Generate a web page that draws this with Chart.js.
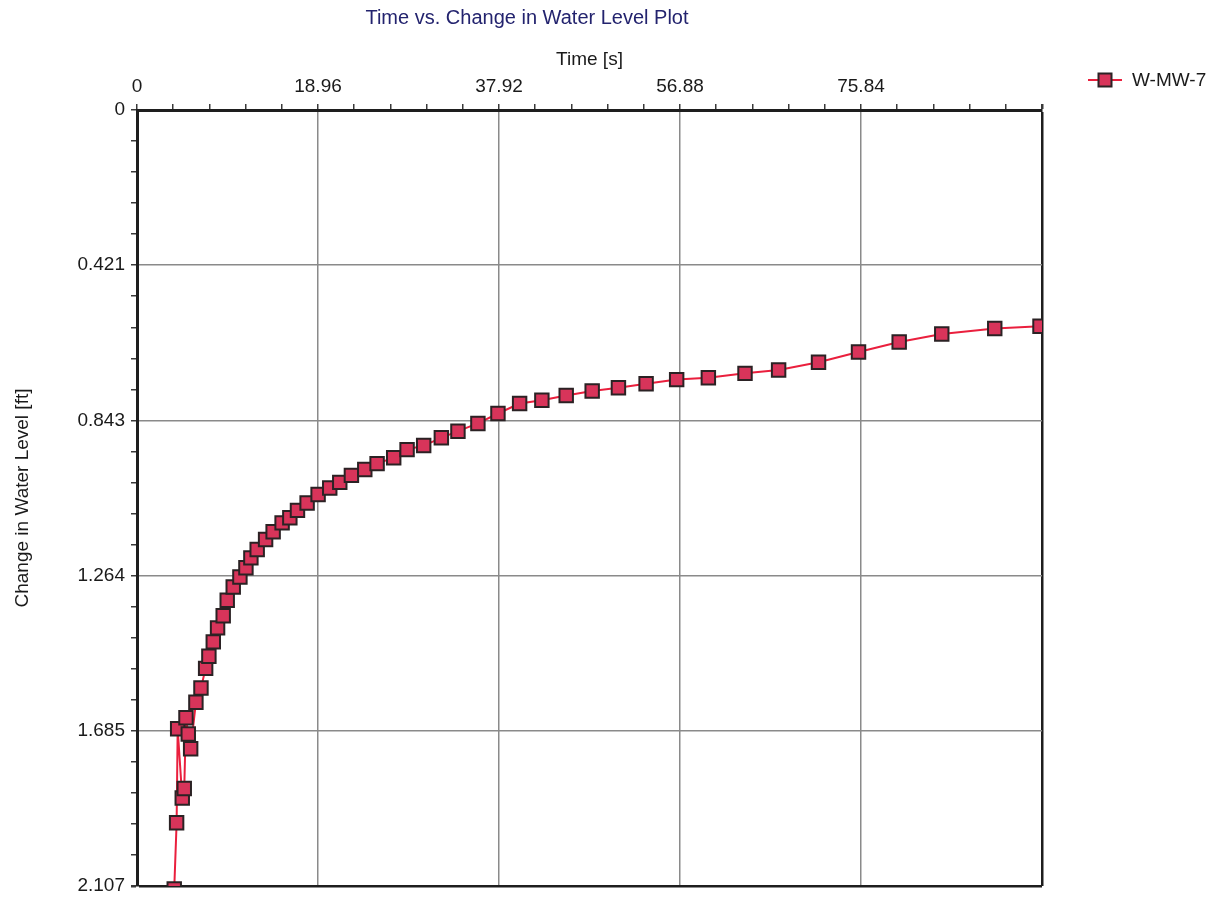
<!DOCTYPE html>
<html>
<head>
<meta charset="utf-8">
<title>Time vs. Change in Water Level Plot</title>
<script src="https://cdn.jsdelivr.net/npm/chart.js@4.4.1/dist/chart.umd.min.js"></script>
<style>
  html, body { margin: 0; padding: 0; background: #ffffff; }
  #wrap { width: 1230px; height: 899px; }
</style>
</head>
<body>
<div id="wrap"><canvas id="c" width="1230" height="899"></canvas></div>
<script>
// Well slug-test recovery record
const chartTitle = 'Time vs. Change in Water Level Plot';
const xAxisTitle = 'Time [s]';
const yAxisTitle = 'Change in Water Level [ft]';
const seriesName = 'W-MW-7';

const timeSeconds = [
  3.9, 4.15, 4.26, 4.74, 4.95, 5.13, 5.37, 5.62, 6.17, 6.70,
  7.19, 7.53, 7.99, 8.44, 9.03, 9.45, 10.08, 10.78, 11.41, 11.93,
  12.59, 13.47, 14.26, 15.20, 16.01, 16.81, 17.82, 18.97, 20.19, 21.24,
  22.46, 23.86, 25.15, 26.89, 28.29, 30.03, 31.88, 33.62, 35.71, 37.81,
  40.08, 42.41, 44.96, 47.68, 50.43, 53.33, 56.53, 59.85, 63.69, 67.21,
  71.39, 75.58, 79.84, 84.30, 89.85, 94.59
];
const waterLevelChange = [
  2.115, 1.935, 1.680, 1.868, 1.842, 1.650, 1.694, 1.734, 1.608, 1.569,
  1.516, 1.483, 1.444, 1.406, 1.373, 1.331, 1.295, 1.268, 1.243, 1.216,
  1.193, 1.166, 1.145, 1.121, 1.107, 1.087, 1.067, 1.044, 1.026, 1.011,
  0.992, 0.976, 0.960, 0.944, 0.922, 0.911, 0.890, 0.872, 0.851, 0.824,
  0.797, 0.788, 0.775, 0.763, 0.754, 0.743, 0.732, 0.727, 0.715, 0.706,
  0.685, 0.657, 0.630, 0.608, 0.593, 0.587
];

const xTickValues = [0, 18.96, 37.92, 56.88, 75.84, 94.8];
const xTickLabels = ['0', '18.96', '37.92', '56.88', '75.84', ''];
const yTickValues = [0, 0.42136, 0.84272, 1.26408, 1.68544, 2.1068];
const yTickLabels = ['0', '0.421', '0.843', '1.264', '1.685', '2.107'];

const MINOR_PER_MAJOR = 4;
const FONT = '"Liberation Sans", Arial, Helvetica, sans-serif';

// major ticks plus evenly spaced minor ticks between them
function buildTicks(values) {
  const out = [];
  values.forEach((v, i) => {
    out.push({ value: v, labelIndex: i, edge: i === values.length - 1 });
    if (i < values.length - 1) {
      const step = (values[i + 1] - v) / (MINOR_PER_MAJOR + 1);
      for (let k = 1; k <= MINOR_PER_MAJOR; k++) {
        out.push({ value: v + step * k, minor: true });
      }
    }
  });
  return out;
}

function gridColor(ctx) {
  const t = ctx.tick;
  if (!t || t.minor) return 'rgba(0,0,0,0)';
  return t.edge ? '#1e1e1e' : '#8a8a8a';
}
function gridWidth(ctx) {
  const t = ctx.tick;
  return t && t.edge ? 2.5 : 1.5;
}

// chart title and series key
const decorations = {
  id: 'decorations',
  afterDraw(chart) {
    const ctx = chart.ctx;
    ctx.save();
    ctx.font = '20px ' + FONT;
    ctx.fillStyle = '#23236e';
    ctx.textAlign = 'center';
    ctx.textBaseline = 'middle';
    ctx.fillText(chartTitle, 527, 18);

    const ds = chart.data.datasets[0];
    const ly = 80;
    ctx.strokeStyle = ds.borderColor;
    ctx.lineWidth = 2;
    ctx.beginPath();
    ctx.moveTo(1088, ly);
    ctx.lineTo(1122, ly);
    ctx.stroke();
    ctx.fillStyle = ds.pointBackgroundColor;
    ctx.strokeStyle = ds.pointBorderColor;
    ctx.lineWidth = 2;
    ctx.beginPath();
    ctx.rect(1105 - 6.5, ly - 6.5, 13, 13);
    ctx.fill();
    ctx.stroke();

    ctx.font = '19px ' + FONT;
    ctx.fillStyle = '#1a1a1a';
    ctx.textAlign = 'left';
    ctx.fillText(ds.label, 1132, ly + 1);
    ctx.restore();
  }
};

new Chart(document.getElementById('c'), {
  type: 'line',
  data: {
    datasets: [{
      label: seriesName,
      data: timeSeconds.map((t, i) => ({ x: t, y: waterLevelChange[i] })),
      borderColor: '#ea1f3d',
      borderWidth: 2,
      pointStyle: 'rect',
      pointRadius: 9.5,
      pointHoverRadius: 9.5,
      pointBackgroundColor: '#d8345a',
      pointBorderColor: '#2b2224',
      pointBorderWidth: 2,
      tension: 0,
      clip: 0
    }]
  },
  options: {
    responsive: false,
    animation: false,
    devicePixelRatio: 1,
    layout: { padding: { left: 0, top: 0, right: 188, bottom: 13 } },
    plugins: {
      legend: { display: false },
      title: { display: false },
      tooltip: { enabled: false }
    },
    scales: {
      x: {
        type: 'linear',
        position: 'top',
        min: 0,
        max: 94.8,
        afterBuildTicks(scale) { scale.ticks = buildTicks(xTickValues); },
        afterFit(scale) {
          scale.height = 110;
          scale.paddingLeft = 0;
          scale.paddingRight = 0;
        },
        ticks: {
          autoSkip: false,
          maxRotation: 0,
          padding: 6,
          color: '#1a1a1a',
          font: { family: FONT, size: 19 },
          callback(value, index, ticks) {
            const t = ticks[index];
            return t.minor ? '' : xTickLabels[t.labelIndex];
          }
        },
        grid: {
          color: gridColor,
          lineWidth: gridWidth,
          tickColor: '#3a3a3a',
          tickLength: 6,
          drawTicks: true
        },
        border: { display: true, color: '#1e1e1e', width: 3 },
        title: {
          display: true,
          text: xAxisTitle,
          color: '#1a1a1a',
          font: { family: FONT, size: 19 },
          padding: { top: 48, bottom: 0 }
        }
      },
      y: {
        type: 'linear',
        position: 'left',
        reverse: true,
        min: 0,
        max: 2.1068,
        afterBuildTicks(scale) { scale.ticks = buildTicks(yTickValues); },
        afterFit(scale) {
          scale.width = 137;
          scale.paddingTop = 0;
          scale.paddingBottom = 0;
        },
        ticks: {
          autoSkip: false,
          padding: 6,
          color: '#1a1a1a',
          font: { family: FONT, size: 19 },
          callback(value, index, ticks) {
            const t = ticks[index];
            return t.minor ? '' : yTickLabels[t.labelIndex];
          }
        },
        grid: {
          color: gridColor,
          lineWidth: gridWidth,
          tickColor: '#3a3a3a',
          tickLength: 6,
          drawTicks: true
        },
        border: { display: true, color: '#1e1e1e', width: 3 },
        title: {
          display: true,
          text: yAxisTitle,
          color: '#1a1a1a',
          font: { family: FONT, size: 19 },
          padding: { top: 11, bottom: 0 }
        }
      }
    }
  },
  plugins: [decorations]
});
</script>
</body>
</html>
